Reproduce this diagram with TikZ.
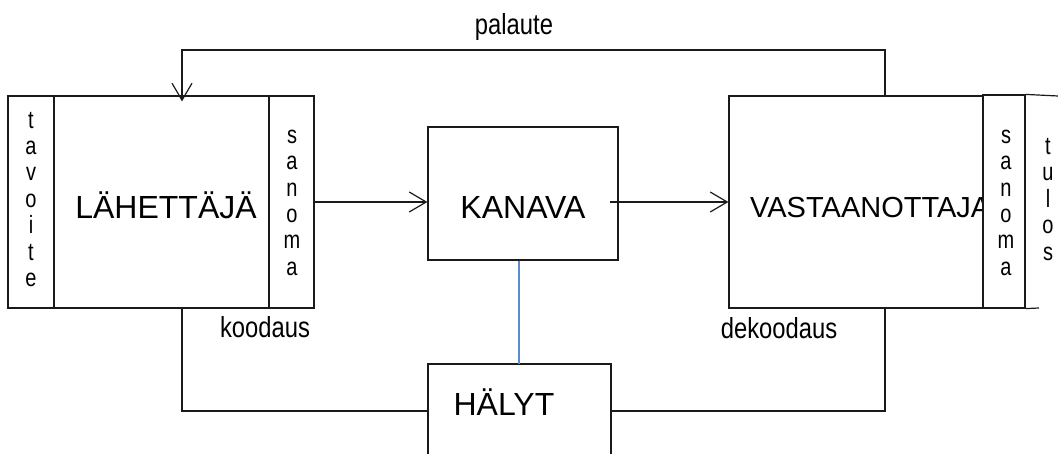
\documentclass[tikz,border=0pt]{standalone}
\usepackage{fontspec}
\usepackage{graphicx}
\setmainfont{Liberation Sans}
\usetikzlibrary{arrows.meta}
\newcommand\narrowtxt[1]{\scalebox{0.82}[1]{#1}}
\newcommand\vword[1]{\scalebox{0.8}[1]{\begin{tabular}{@{}c@{}}#1\end{tabular}}}
\definecolor{linegray}{HTML}{1A1A1A}
\definecolor{noiseblue}{HTML}{5B8BD0}
\tikzset{
  box/.style={draw=linegray, line width=1.2pt, rectangle, inner sep=0pt, fill=white},
  conn/.style={draw=linegray, line width=1.2pt},
  arr/.style={conn, -{Straight Barb[length=17pt,width=20pt,line width=1.2pt]}},
  bigtxt/.style={font=\fontsize{32}{38}\selectfont, inner sep=0pt},
  midtxt/.style={font=\fontsize{29}{34}\selectfont, inner sep=0pt},
  labtxt/.style={font=\fontsize{29}{34}\selectfont, inner sep=0pt},
  lettxt/.style={font=\fontsize{25}{26.4}\selectfont, inner sep=0pt}
}
\begin{document}
\begin{tikzpicture}[x=1pt,y=-1pt]
\useasboundingbox (0,0) rectangle (1058,454);
% left block
\node[box, minimum width=46pt, minimum height=212pt] (tav) at (31,202) {};
\node[lettxt] (tavt) at (31,202) {\vword{t\\a\\v\\o\\i\\t\\e}};
\node[box, minimum width=215pt, minimum height=212pt] (lah) at (161.5,202) {};
\node[bigtxt] (laht) at (166,205) {LÄHETTÄJÄ};
\node[box, minimum width=45pt, minimum height=212pt] (san1) at (291.5,202) {};
\node[lettxt] (san1t) at (292,204) {\vword{s\\a\\n\\o\\m\\a}};
% channel
\node[box, minimum width=190pt, minimum height=133pt] (kan) at (523,193.5) {};
\node[bigtxt] (kant) at (523,207) {KANAVA};
% receiver
\node[box, minimum width=254pt, minimum height=212pt] (vas) at (856,202) {};
\node[midtxt, anchor=west] (vast) at (750,208) {VASTAANOTTAJA};
\node[box, minimum width=42pt, minimum height=213pt] (san2) at (1004,201.5) {};
\node[lettxt] (san2t) at (1006,204) {\vword{s\\a\\n\\o\\m\\a}};
\coordinate (tulTop) at (1058,96);
\coordinate (tulBot) at (1039,308);
\draw[conn] (san2.north east) -- (tulTop);
\draw[conn] (san2.south east) -- (tulBot);
\node[lettxt] (tult) at (1048,202) {\vword{t\\u\\l\\o\\s}};
% noise
\coordinate (halTL) at (428,364);
\coordinate (halTR) at (611,364);
\coordinate (halBL) at (428,454);
\coordinate (halBR) at (611,454);
\draw[conn] (halBL) -- (halTL) -- (halTR) -- (halBR);
\node[bigtxt] (halt) at (504,402) {HÄLYT};
\coordinate (halL) at (428,411);
\coordinate (halR) at (611,411);
\coordinate (halTop) at (519,364);
% connectors
\draw[arr] (san1.east |- 0,202) -- (kan.west |- 0,202);
\draw[arr] (610,202) -- (vas.west |- 0,202);
\draw[draw=noiseblue, line width=1.2pt] (kan.south -| halTop) -- (halTop);
\coordinate (fbR) at (885,50);
\coordinate (fbL) at (182,50);
\draw[arr] (vas.north -| fbR) -- (fbR) -- (fbL) -- ([yshift=-6pt]lah.north -| fbL);
\coordinate (lowL) at (182,411);
\coordinate (lowR) at (885,411);
\draw[conn] (lah.south -| lowL) -- (lowL) -- (halL);
\draw[conn] (halR) -- (lowR) -- (vas.south -| lowR);
% labels
\node[labtxt] (pal) at (514,27) {\narrowtxt{palaute}};
\node[labtxt] (koo) at (265,327) {\narrowtxt{koodaus}};
\node[labtxt] (dek) at (779,328) {\narrowtxt{dekoodaus}};
\end{tikzpicture}
\end{document}
